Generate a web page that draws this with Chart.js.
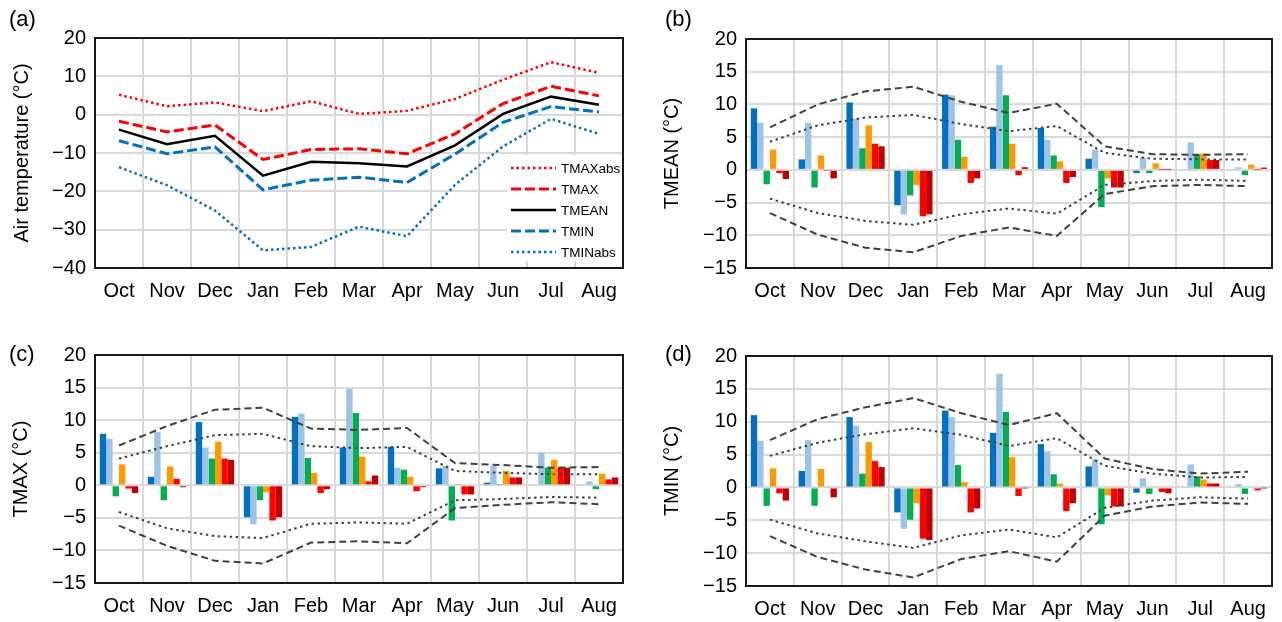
<!DOCTYPE html>
<html>
<head>
<meta charset="utf-8">
<script src="https://cdn.jsdelivr.net/npm/chart.js@4.4.1/dist/chart.umd.min.js"></script>
<style>
html, body { margin: 0; padding: 0; background: #fff; }
body { width: 1282px; height: 622px; position: relative; overflow: hidden; }
canvas { position: absolute; }
</style>
</head>
<body>
<canvas id="chartA" width="641" height="311" style="left:0px;top:0px"></canvas>
<canvas id="chartB" width="641" height="311" style="left:641px;top:0px"></canvas>
<canvas id="chartC" width="641" height="311" style="left:0px;top:311px"></canvas>
<canvas id="chartD" width="641" height="311" style="left:641px;top:311px"></canvas>
<script>
const months = ['Oct', 'Nov', 'Dec', 'Jan', 'Feb', 'Mar', 'Apr', 'May', 'Jun', 'Jul', 'Aug'];

// (a) monthly air temperature
const tmaxAbs = [5.2, 2.2, 3.2, 0.9, 3.5, 0.2, 1.0, 4.1, 9.1, 13.7, 10.9];
const tmax = [-1.7, -4.5, -2.7, -11.7, -9.1, -8.9, -10.2, -5.0, 2.9, 7.4, 4.9];
const tmean = [-3.9, -7.7, -5.5, -15.9, -12.3, -12.7, -13.5, -8.0, 0.2, 4.7, 2.6];
const tmin = [-6.8, -10.2, -8.4, -19.6, -17.1, -16.3, -17.7, -10.3, -2.0, 2.1, 0.7];
const tminAbs = [-13.7, -18.4, -25.0, -35.4, -34.5, -29.2, -31.7, -18.3, -8.3, -1.1, -5.0];
const tempTicks = [-40, -30, -20, -10, 0, 10, 20];

// (b) TMEAN, one row per bar colour
const tmeanBars = [
    [9.4, 1.6, 10.3, -5.4, 11.5, 6.6, 6.4, 1.7, -0.5, null, null],
    [7.2, 7.2, 7.8, -6.8, 11.4, 16.0, 4.6, 3.1, 1.9, 4.2, 0.4],
    [-2.2, -2.7, 3.3, -3.9, 4.6, 11.4, 2.2, -5.7, -0.5, 2.3, -0.8],
    [3.1, 2.2, 6.8, -2.3, 2.0, 4.0, 1.3, -1.3, 1.0, 2.5, 0.8],
    [-0.5, -0.1, 4.0, -7.1, -2.0, -0.8, -2.0, -2.7, 0.05, 1.5, 0.05],
    [-1.4, -1.3, 3.6, -6.8, -1.3, 0.4, -1.1, -2.7, 0.05, 1.5, 0.35]
];
const tmeanHi2 = [6.5, 10.0, 12.0, 12.7, 10.4, 8.7, 10.1, 3.6, 2.4, 2.3, 2.4];
const tmeanHi1 = [4.3, 6.8, 8.0, 8.4, 7.0, 5.9, 6.7, 2.6, 1.7, 1.6, 1.6];
const tmeanLo1 = [-4.4, -6.6, -7.8, -8.4, -6.8, -5.9, -6.7, -2.3, -1.7, -1.5, -1.7];
const tmeanLo2 = [-6.6, -9.9, -11.9, -12.6, -10.1, -8.8, -10.1, -3.7, -2.5, -2.3, -2.5];

// (c) TMAX
const tmaxBars = [
    [7.9, 1.3, 9.7, -4.9, 10.5, 5.8, 5.9, 2.6, 0.4, null, null],
    [7.1, 8.2, 5.8, -6.0, 11.0, 14.8, 2.7, 3.0, 3.0, 5.0, 0.6],
    [-1.7, -2.3, 4.1, -2.3, 4.2, 11.1, 2.4, -5.4, 0.1, 2.7, -0.6],
    [3.2, 2.9, 6.7, -1.1, 1.9, 4.4, 1.3, 0.1, 2.2, 3.9, 1.8],
    [-0.5, 1.0, 4.1, -5.4, -1.2, 0.6, -0.9, -1.4, 1.2, 2.7, 0.9],
    [-1.2, -0.3, 3.9, -4.9, -0.6, 1.5, -0.3, -1.4, 1.2, 2.7, 1.2]
];
const tmaxHi2 = [6.1, 9.1, 11.6, 11.9, 8.7, 8.5, 8.8, 3.4, 3.1, 2.7, 2.8];
const tmaxHi1 = [4.1, 6.0, 7.7, 7.9, 6.0, 5.7, 5.9, 2.2, 1.9, 1.7, 1.7];
const tmaxLo1 = [-4.1, -6.6, -7.8, -8.1, -5.9, -5.7, -5.9, -2.3, -2.1, -1.8, -1.9];
const tmaxLo2 = [-6.2, -9.3, -11.6, -12.0, -8.8, -8.6, -8.9, -3.5, -3.0, -2.6, -2.9];

// (d) TMIN
const tminBars = [
    [11.0, 2.5, 10.7, -3.8, 11.7, 8.3, 6.6, 3.2, -0.8, null, null],
    [7.1, 7.2, 9.4, -6.3, 10.7, 17.3, 5.5, 4.3, 1.4, 3.5, 0.5],
    [-2.8, -2.8, 2.1, -4.9, 3.4, 11.5, 2.0, -5.6, -1.0, 1.7, -1.0],
    [2.9, 2.8, 6.9, -2.4, 0.8, 4.6, 0.6, -1.2, null, 1.2, 0.15],
    [-0.9, null, 4.0, -7.8, -3.8, -1.3, -3.6, -2.9, -0.7, 0.6, -0.45],
    [-2.0, -1.5, 3.1, -8.0, -3.2, -0.05, -2.4, -2.9, -0.9, 0.6, -0.05]
];
const tminHi2 = [7.2, 10.4, 12.2, 13.6, 11.3, 9.5, 11.3, 4.4, 2.8, 2.1, 2.4];
const tminHi1 = [4.8, 6.8, 8.1, 9.0, 8.0, 6.3, 7.5, 3.3, 2.1, 1.5, 1.6];
const tminLo1 = [-4.9, -7.0, -8.2, -9.2, -7.3, -6.4, -7.6, -3.1, -2.0, -1.5, -1.7];
const tminLo2 = [-7.4, -10.6, -12.5, -13.7, -10.9, -9.7, -11.3, -4.3, -2.9, -2.3, -2.5];
const anomTicks = [-15, -10, -5, 0, 5, 10, 15, 20];

const barColors = ['#0070c0', '#9dc3e6', '#00b050', '#ff9900', '#ff0000', '#c00000'];
const FONT = "'Liberation Sans', Arial, sans-serif";

function minusLabel(v) {
    return v < 0 ? '\u2212' + Math.abs(v) : String(v);
}

// plot frame + panel letter
const framePlugin = {
    id: 'frame',
    afterDraw(chart, args, opts) {
        const ctx = chart.ctx;
        const a = chart.chartArea;
        ctx.save();
        ctx.strokeStyle = '#1a1a1a';
        ctx.lineWidth = 2;
        ctx.strokeRect(a.left, a.top, a.right - a.left, a.bottom - a.top);
        ctx.fillStyle = '#000';
        ctx.font = '22px ' + FONT;
        ctx.textBaseline = 'middle';
        ctx.textAlign = 'left';
        ctx.fillText(opts.text, opts.x, opts.y);
        ctx.restore();
    }
};

// legend inside panel (a)
const insideLegend = {
    id: 'insideLegend',
    beforeDatasetsDraw(chart, args, opts) {
        const ctx = chart.ctx;
        ctx.save();
        ctx.fillStyle = '#fff';
        ctx.fillRect(opts.x - 4, opts.y - 13, 116, 106);
        ctx.restore();
    },
    afterDatasetsDraw(chart, args, opts) {
        const ctx = chart.ctx;
        ctx.save();
        chart.data.datasets.forEach((ds, i) => {
            const y = opts.y + i * 21;
            ctx.strokeStyle = ds.borderColor;
            ctx.lineWidth = ds.borderWidth;
            ctx.setLineDash(ds.borderDash || []);
            ctx.beginPath();
            ctx.moveTo(opts.x, y);
            ctx.lineTo(opts.x + 45, y);
            ctx.stroke();
            ctx.setLineDash([]);
            ctx.fillStyle = '#000';
            ctx.font = '13.5px ' + FONT;
            ctx.textBaseline = 'middle';
            ctx.fillText(ds.label, opts.x + 50, y + 1);
        });
        ctx.restore();
    }
};

function axes(box, ticks, title) {
    return {
        x: {
            offset: true,
            grid: { offset: true, color: '#d9d9d9', lineWidth: 2, drawTicks: false },
            border: { display: false },
            ticks: { color: '#000', font: { family: FONT, size: 20 }, padding: 11, maxRotation: 0, autoSkip: false },
            afterFit: s => { s.height = box.xh; }
        },
        y: {
            min: ticks[0],
            max: ticks[ticks.length - 1],
            afterBuildTicks: s => { s.ticks = ticks.map(v => ({ value: v })); },
            grid: { color: '#d9d9d9', lineWidth: 2, drawTicks: false },
            border: { display: false },
            ticks: { color: '#000', font: { family: FONT, size: 20 }, padding: 9, callback: minusLabel },
            title: { display: true, text: title, color: '#000', font: { family: FONT, size: 20 }, padding: { top: box.tp, bottom: 0 } },
            afterFit: s => { s.width = box.yw; }
        }
    };
}

function baseOptions(box, ticks, title, letter) {
    return {
        responsive: false,
        animation: false,
        devicePixelRatio: 1,
        layout: { padding: { top: box.top, right: box.right, left: 0, bottom: 0 } },
        scales: axes(box, ticks, title),
        plugins: {
            legend: { display: false },
            tooltip: { enabled: false },
            frame: letter
        }
    };
}

// panel (a)
const optsA = baseOptions({ top: 38, right: 18, xh: 43, yw: 95, tp: 10 }, tempTicks, 'Air temperature (\u00b0C)', { text: '(a)', x: 9, y: 20 });
optsA.plugins.insideLegend = { x: 511, y: 168 };
new Chart(document.getElementById('chartA'), {
    type: 'line',
    data: {
        labels: months,
        datasets: [
            { label: 'TMAXabs', data: tmaxAbs, borderColor: '#ff0000', borderWidth: 2.5, borderDash: [2.5, 3] },
            { label: 'TMAX', data: tmax, borderColor: '#ff0000', borderWidth: 3, borderDash: [10, 4] },
            { label: 'TMEAN', data: tmean, borderColor: '#000000', borderWidth: 2.5 },
            { label: 'TMIN', data: tmin, borderColor: '#0070c0', borderWidth: 3, borderDash: [10, 4] },
            { label: 'TMINabs', data: tminAbs, borderColor: '#0070c0', borderWidth: 2.5, borderDash: [2.5, 3] }
        ].map(d => Object.assign(d, { pointRadius: 0, tension: 0, fill: false }))
    },
    options: optsA,
    plugins: [framePlugin, insideLegend]
});

function barPanel(id, bars, env, title, letter, box) {
    const sets = bars.map((vals, i) => ({
        type: 'bar',
        data: vals,
        backgroundColor: barColors[i],
        borderWidth: 0,
        categoryPercentage: 0.8,
        barPercentage: 1.0,
        order: 2
    }));
    const dashes = [[7, 4], [2.5, 3.5], [2.5, 3.5], [7, 4]];
    env.forEach((vals, i) => {
        sets.push({
            type: 'line',
            data: vals,
            borderColor: '#404040',
            borderWidth: 2,
            borderDash: dashes[i],
            pointRadius: 0,
            tension: 0,
            fill: false,
            order: 1
        });
    });
    new Chart(document.getElementById(id), {
        type: 'bar',
        data: { labels: months, datasets: sets },
        options: baseOptions(box, anomTicks, title, letter),
        plugins: [framePlugin]
    });
}

barPanel('chartB', tmeanBars, [tmeanHi2, tmeanHi1, tmeanLo1, tmeanLo2], 'TMEAN (\u00b0C)',
    { text: '(b)', x: 24, y: 20 }, { top: 39, right: 10, xh: 43, yw: 105, tp: 19 });
barPanel('chartC', tmaxBars, [tmaxHi2, tmaxHi1, tmaxLo1, tmaxLo2], 'TMAX (\u00b0C)',
    { text: '(c)', x: 9, y: 44 }, { top: 44, right: 18, xh: 39, yw: 95, tp: 9 });
barPanel('chartD', tminBars, [tminHi2, tminHi1, tminLo1, tminLo2], 'TMIN (\u00b0C)',
    { text: '(d)', x: 24, y: 44 }, { top: 45, right: 10, xh: 36, yw: 105, tp: 19 });
</script>
</body>
</html>
